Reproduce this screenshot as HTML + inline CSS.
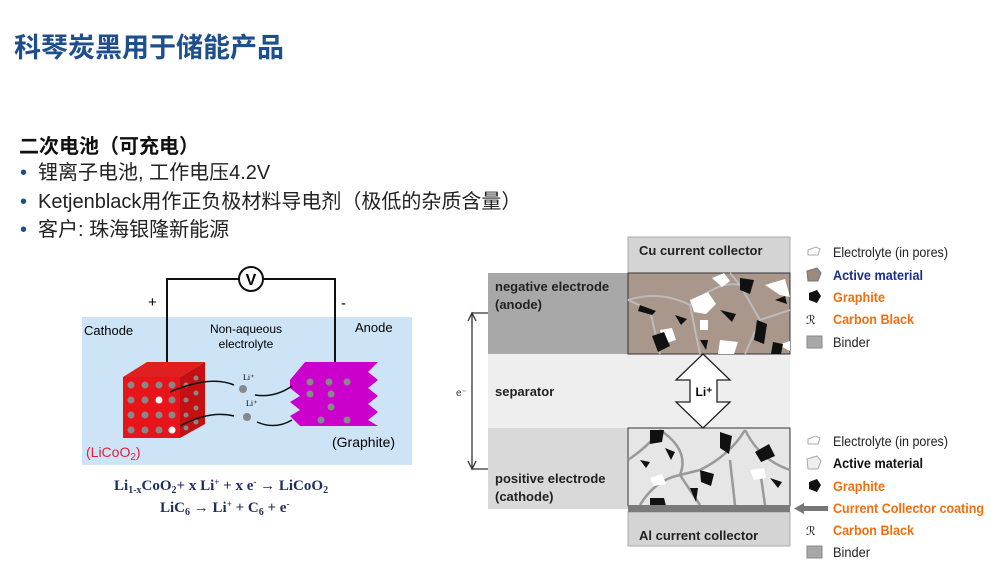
<!DOCTYPE html>
<html><head><meta charset="utf-8"><style>
body{margin:0;width:1000px;height:578px;background:#fff;position:relative;overflow:hidden;font-family:"Liberation Sans","Noto Sans CJK SC",sans-serif}
.a{position:absolute;white-space:nowrap}
</style></head><body>
<div class="a" style="left:14px;top:26px;font-size:27px;font-weight:bold;color:#1f4e8c;letter-spacing:0px">科琴炭黑用于储能产品</div>
<div class="a" style="left:19px;top:130px;font-size:20px;font-weight:bold;color:#111">二次电池（可充电）</div>
<div class="a" style="left:20px;top:159px;font-size:20px;color:#222;line-height:28.5px">
<div><span style="color:#1f4e8c;display:inline-block;width:18px">•</span>锂离子电池, 工作电压4.2V</div>
<div><span style="color:#1f4e8c;display:inline-block;width:18px">•</span>Ketjenblack用作正负极材料导电剂（极低的杂质含量）</div>
<div><span style="color:#1f4e8c;display:inline-block;width:18px">•</span>客户: 珠海银隆新能源</div>
</div>

<svg class="a" style="left:0;top:0" width="1000" height="578" font-family="Liberation Sans, sans-serif">
<!-- left diagram -->
<rect x="82" y="317" width="330" height="148" fill="#cde3f6"/>
<path d="M167 362 V279 H335 V362" fill="none" stroke="#111" stroke-width="2"/>
<circle cx="251" cy="279" r="12" fill="#fff" stroke="#111" stroke-width="2"/>
<text x="251" y="285" font-size="16" text-anchor="middle" font-weight="bold">V</text>
<text x="148" y="307" font-size="15">+</text>
<text x="341" y="308" font-size="15">-</text>
<text x="84" y="335" font-size="13">Cathode</text>
<text x="246" y="333" font-size="12" text-anchor="middle">Non-aqueous</text>
<text x="246" y="348" font-size="12" text-anchor="middle">electrolyte</text>
<text x="355" y="332" font-size="13">Anode</text>
<polygon points="123,377 147,362 205,362 180,377" fill="#e02020"/>
<polygon points="180,377 205,362 205,424 180,438" fill="#c41010"/>
<rect x="123" y="377" width="57" height="61" fill="#e8141a"/>
<g fill="#888">
<circle cx="131" cy="385" r="3.5"/><circle cx="145" cy="385" r="3.5"/><circle cx="159" cy="385" r="3.5"/><circle cx="172" cy="385" r="3.5"/>
<circle cx="131" cy="400" r="3.5"/><circle cx="145" cy="400" r="3.5"/><circle cx="172" cy="400" r="3.5"/>
<circle cx="131" cy="415" r="3.5"/><circle cx="145" cy="415" r="3.5"/><circle cx="159" cy="415" r="3.5"/><circle cx="172" cy="415" r="3.5"/>
<circle cx="131" cy="430" r="3.5"/><circle cx="145" cy="430" r="3.5"/><circle cx="159" cy="430" r="3.5"/>
<circle cx="186" cy="385" r="2.5"/><circle cx="196" cy="378" r="2.5"/><circle cx="186" cy="400" r="2.5"/><circle cx="196" cy="393" r="2.5"/><circle cx="186" cy="415" r="2.5"/><circle cx="196" cy="408" r="2.5"/><circle cx="186" cy="428" r="2.5"/><circle cx="196" cy="422" r="2.5"/>
</g>
<circle cx="159" cy="400" r="3.5" fill="#fff"/><circle cx="172" cy="430" r="3.5" fill="#fff"/>
<g fill="#cc00cc">
<polygon points="290,380 305,362 378,362 368,372 378,380 368,388 378,396 368,404 378,412 368,420 378,426 300,426 290,416 300,410 290,402 300,396 290,388"/>
</g>
<g fill="#888"><circle cx="310" cy="382" r="3.5"/><circle cx="329" cy="382" r="3.5"/><circle cx="347" cy="382" r="3.5"/><circle cx="310" cy="394" r="3.5"/><circle cx="331" cy="394" r="3.5"/><circle cx="331" cy="407" r="3.5"/><circle cx="321" cy="420" r="3.5"/><circle cx="347" cy="420" r="3.5"/></g>
<circle cx="243" cy="389" r="4" fill="#888"/><circle cx="247" cy="417" r="4" fill="#888"/>
<text x="243" y="380" font-size="8" font-family="Liberation Serif">Li⁺</text>
<text x="246" y="406" font-size="8" font-family="Liberation Serif">Li⁺</text>
<path d="M234 385 Q210 375 170 392" fill="none" stroke="#111" stroke-width="1.5"/>
<path d="M234 416 Q210 410 180 426" fill="none" stroke="#111" stroke-width="1.5"/>
<path d="M292 386 Q275 398 255 395" fill="none" stroke="#111" stroke-width="1.5"/>
<path d="M292 420 Q275 430 257 422" fill="none" stroke="#111" stroke-width="1.5"/>
<text x="86" y="457" font-size="14" fill="#e0203a">(LiCoO<tspan font-size="10" dy="3">2</tspan><tspan dy="-3">)</tspan></text>
<text x="332" y="447" font-size="14">(Graphite)</text>
<g font-family="Liberation Serif" font-weight="bold" fill="#1f2d5c" font-size="15">
<text x="114" y="490">Li<tspan font-size="10" dy="3">1-x</tspan><tspan dy="-3">CoO</tspan><tspan font-size="10" dy="3">2</tspan><tspan dy="-3">+ x Li</tspan><tspan font-size="9" dy="-5">+</tspan><tspan dy="5"> + x e</tspan><tspan font-size="9" dy="-5">-</tspan><tspan dy="5"> → LiCoO</tspan><tspan font-size="10" dy="3">2</tspan></text>
<text x="160" y="512">LiC<tspan font-size="10" dy="3">6</tspan><tspan dy="-3"> → Li</tspan><tspan font-size="9" dy="-5">+</tspan><tspan dy="5"> + C</tspan><tspan font-size="10" dy="3">6</tspan><tspan dy="-3"> + e</tspan><tspan font-size="9" dy="-5">-</tspan></text>
</g>

<!-- right diagram -->
<rect x="628" y="237" width="162" height="36" fill="#d4d4d4" stroke="#aaa"/>
<rect x="488" y="273" width="302" height="81" fill="#a8a8a8"/>
<rect x="488" y="354" width="302" height="74" fill="#eeeeee"/>
<rect x="488" y="428" width="302" height="81" fill="#d9d9d9"/>
<rect x="628" y="512" width="162" height="34" fill="#d4d4d4" stroke="#aaa"/>
<!-- anode texture -->
<rect x="628" y="273" width="162" height="81" fill="#a8978a" stroke="#333"/>
<g fill="none" stroke="#bbb" stroke-width="2">
<path d="M628 300 Q660 290 690 305 M690 305 L700 354 M690 305 Q720 280 740 285 M740 285 L760 320 L790 310 M740 285 L730 273 M660 354 L650 310 L628 300 M760 320 L745 354"/>
</g>
<g fill="#fff"><path d="M690 300 l18 -8 8 12 -10 10 -12 -2z M712 278 l12 -5 6 8 -8 6z M765 285 l20 -6 5 18 -10 -2z M660 330 l12 -2 4 12 -12 4z M720 340 l18 2 -4 12 -16 0z M778 345 l12 -4 0 10z M700 320 l8 0 0 10 -8 0z"/></g>
<g fill="#111"><path d="M652 336 l12 -4 6 14 -12 6z M740 278 l14 2 -4 14 -10 -4z M757 320 l10 4 -3 20 -10 -4z M773 342 l10 2 -2 10 -10 0z M720 310 l16 4 -4 8z M640 305 l16 6 -4 4 -14 -4z M675 315 l12 4 -6 6z M775 300 l10 -4 2 8z M700 340 l8 0 -2 10z"/></g>
<!-- cathode texture -->
<rect x="628" y="428" width="162" height="78" fill="#e6e6e6" stroke="#333"/>
<g fill="none" stroke="#999" stroke-width="2.5">
<path d="M628 460 Q650 445 660 430 M660 430 Q690 450 680 475 L700 505 M680 475 Q655 480 640 505 M700 470 Q730 455 745 430 M745 430 Q760 460 790 470 M730 460 L735 505 M760 470 L765 505 M700 470 L680 475"/>
</g>
<g fill="#fff"><path d="M650 478 l12 -4 4 10 -12 2z M750 470 l14 -2 2 10 -12 2z M700 470 l10 0 -2 8z"/></g>
<g fill="#111"><path d="M650 430 l14 0 -2 12 -12 2z M720 432 l12 4 -3 18 -9 -6z M650 498 l14 0 2 8 -16 0z M700 470 l14 4 -3 12 -10 -4z M755 452 l14 -8 6 12 -14 6z M640 460 l10 2 -4 6z M770 478 l12 4 -4 6z M690 488 l8 0 -2 14z M665 448 l10 4 -4 8z"/></g>
<rect x="628" y="505" width="162" height="7" fill="#7a7a7a"/>
<polygon points="703,354 730,380 717,380 717,402 730,402 703,428 676,402 690,402 690,380 676,380" fill="#fff" stroke="#222" stroke-width="1.3"/>
<text x="704" y="396" font-size="12" font-weight="bold" text-anchor="middle">Li⁺</text>
<path d="M488 313 H472 V469 H488" fill="none" stroke="#333" stroke-width="1.3"/>
<path d="M468 321 L472 313 L476 321 M468 461 L472 469 L476 461" fill="none" stroke="#333" stroke-width="1.3"/>
<text x="456" y="396" font-size="10" fill="#333">e⁻</text>
<g font-size="13" font-weight="bold" fill="#222">
<text x="639" y="255">Cu current collector</text>
<text x="495" y="291">negative electrode</text>
<text x="495" y="309">(anode)</text>
<text x="495" y="396">separator</text>
<text x="495" y="483">positive electrode</text>
<text x="495" y="501">(cathode)</text>
<text x="639" y="540">Al current collector</text>
</g>
<!-- legends -->
<g font-size="14" lengthAdjust="spacingAndGlyphs">
<path d="M808 250 l8 -3 4 2 -2 6 -10 0z" fill="#fff" stroke="#aaa"/>
<text x="833" y="257" fill="#222" textLength="115" lengthAdjust="spacingAndGlyphs">Electrolyte (in pores)</text>
<path d="M807 271 l10 -3 4 5 -3 8 -10 0z" fill="#9e8a7a" stroke="#777"/>
<text x="833" y="280" fill="#1a2e8c" font-weight="bold" textLength="90" lengthAdjust="spacingAndGlyphs">Active material</text>
<path d="M809 293 l8 -3 4 6 -4 7 -8 -3z" fill="#111"/>
<text x="833" y="302" fill="#f07010" font-weight="bold" textLength="52" lengthAdjust="spacingAndGlyphs">Graphite</text>
<text x="806" y="324" font-size="12" fill="#111">ℛ</text>
<text x="833" y="324" fill="#f07010" font-weight="bold" textLength="81" lengthAdjust="spacingAndGlyphs">Carbon Black</text>
<rect x="807" y="336" width="15" height="12" fill="#a8a8a8" stroke="#888"/>
<text x="833" y="347" fill="#222" textLength="37" lengthAdjust="spacingAndGlyphs">Binder</text>

<path d="M808 439 l8 -3 4 2 -2 6 -10 0z" fill="#fff" stroke="#aaa"/>
<text x="833" y="446" fill="#222" textLength="115" lengthAdjust="spacingAndGlyphs">Electrolyte (in pores)</text>
<path d="M807 459 l10 -3 4 5 -3 8 -10 0z" fill="#eee" stroke="#aaa"/>
<text x="833" y="468" fill="#111" font-weight="bold" textLength="90" lengthAdjust="spacingAndGlyphs">Active material</text>
<path d="M809 482 l8 -3 4 6 -4 7 -8 -3z" fill="#111"/>
<text x="833" y="491" fill="#f07010" font-weight="bold" textLength="52" lengthAdjust="spacingAndGlyphs">Graphite</text>
<rect x="802" y="506" width="26" height="5" fill="#777"/><polygon points="794,508.5 804,503 804,514" fill="#777"/>
<text x="833" y="513" fill="#f07010" font-weight="bold" textLength="151" lengthAdjust="spacingAndGlyphs">Current Collector coating</text>
<text x="806" y="535" font-size="12" fill="#111">ℛ</text>
<text x="833" y="535" fill="#f07010" font-weight="bold" textLength="81" lengthAdjust="spacingAndGlyphs">Carbon Black</text>
<rect x="807" y="546" width="15" height="12" fill="#a8a8a8" stroke="#888"/>
<text x="833" y="557" fill="#222" textLength="37" lengthAdjust="spacingAndGlyphs">Binder</text>
</g>
</svg>
</body></html>
